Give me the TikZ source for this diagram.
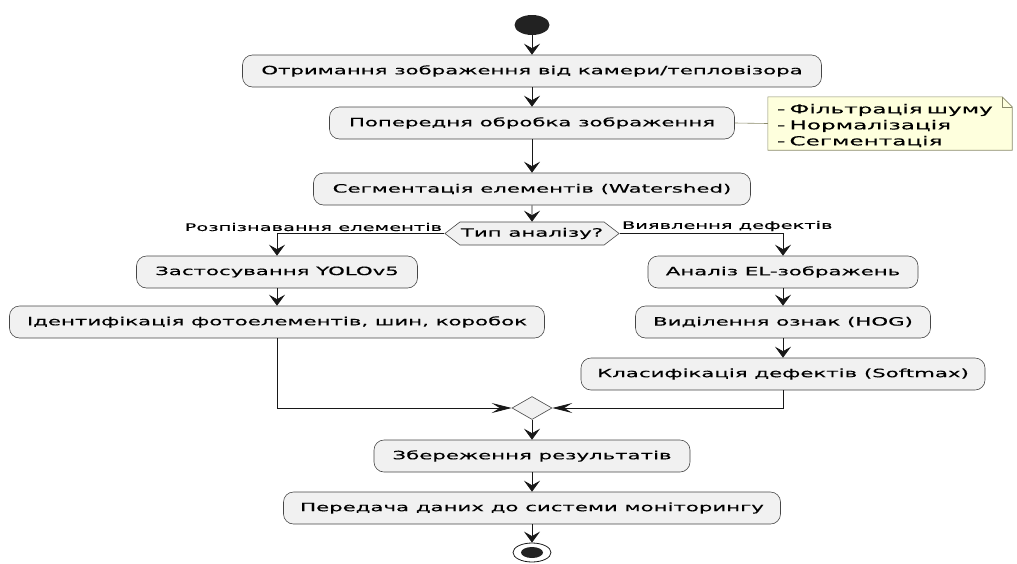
\documentclass[tikz,border=0pt]{standalone}
\usepackage{fontspec}
\newfontfamily\dv[FakeStretch=1.85,FakeBold=0.25]{DejaVu Sans}
\usetikzlibrary{arrows.meta}
\usetikzlibrary{shapes.geometric}
\usetikzlibrary{shapes.symbols}
\usetikzlibrary{positioning}
\definecolor{actfill}{HTML}{F1F1F1}
\definecolor{actline}{HTML}{181818}
\definecolor{notefill}{HTML}{FEFFDD}
\definecolor{noteline}{HTML}{8A8A6A}
\definecolor{dotfill}{HTML}{222222}
\tikzset{act/.style={rectangle,rounded corners=10pt,draw=actline!80,fill=actfill,line width=0.6pt,minimum height=32pt,inner sep=0pt,font=\dv\fontsize{11.5}{13}\selectfont}}
\tikzset{flow/.style={draw=actline,line width=0.8pt,-{Stealth[length=11pt,width=16pt,inset=4.5pt]}}}
\tikzset{hflow/.style={draw=actline,line width=0.8pt,-{Stealth[length=20pt,width=10pt,inset=8pt]}}}
\tikzset{lbl/.style={font=\dv\fontsize{10.5}{12}\selectfont,inner sep=2pt}}
\tikzset{notetext/.style={font=\dv\fontsize{12.5}{16}\selectfont,align=left,text width=226pt,inner xsep=9pt,minimum height=53pt}}

\begin{document}
\begin{tikzpicture}[x=1pt,y=-1pt]
    \useasboundingbox (0,0) rectangle (1017,563);
    \node[ellipse,fill=dotfill,minimum width=35pt,minimum height=20pt,inner sep=0pt] (start) at (532,25) {};
    \node[act,minimum width=579pt] (get) at (532,71) {Отримання зображення від камери/тепловізора};
    \node[act,minimum width=405pt] (prep) at (532,123) {Попередня обробка зображення};
    \node[notetext] (note) at (890,123.5) {\phantom{- Фільтрація шуму}};
    \node[act,minimum width=437pt] (seg) at (532,189) {Сегментація елементів (Watershed)};
    \node[signal,signal to=west and east,signal pointer angle=75,draw=actline!80,fill=actfill,line width=0.6pt,
          minimum width=172pt,minimum height=23pt,inner sep=1pt,font=\dv\fontsize{11.5}{13}\selectfont] (kind) at (532,233.5) {Тип аналізу?};
    \node[act,minimum width=281pt] (yolo) at (277,272) {Застосування YOLOv5};
    \node[act,minimum width=535pt] (ident) at (277,322) {Ідентифікація фотоелементів, шин, коробок};
    \node[act,minimum width=270pt] (el) at (783,272) {Аналіз EL-зображень};
    \node[act,minimum width=295pt] (hog) at (783,322) {Виділення ознак (HOG)};
    \node[act,minimum width=404pt] (cls) at (783,374) {Класифікація дефектів (Softmax)};
    \node[diamond,aspect=1.74,draw=actline!80,fill=actfill,line width=0.6pt,minimum width=40pt,minimum height=23pt,inner sep=0pt] (join) at (532,408) {};
    \node[act,minimum width=316pt] (save) at (532,456) {Збереження результатів};
    \node[act,minimum width=497pt] (send) at (532,508) {Передача даних до системи моніторингу};
    \node[ellipse,draw=actline,line width=0.8pt,minimum width=38pt,minimum height=19pt,inner sep=0pt] (stop) at (532,552.5) {};
    \node[ellipse,fill=dotfill,minimum width=22pt,minimum height=11pt,inner sep=0pt] (stopdot) at (stop) {};
    % note with folded corner
    \filldraw[fill=notefill,draw=noteline,line width=0.6pt] (note.north west) -- ([xshift=-10pt]note.north east)
        -- ([yshift=-10pt]note.north east) -- (note.south east) -- (note.south west) -- cycle;
    \draw[noteline,line width=0.6pt] ([xshift=-10pt]note.north east) -- ([xshift=-10pt,yshift=-10pt]note.north east)
        -- ([yshift=-10pt]note.north east);
    \node[notetext,yshift=-2pt] (notebody) at (note) {- Фільтрація шуму\\- Нормалізація\\- Сегментація};
    \draw[noteline,line width=0.6pt] (prep.east) -- (note.west);
    \draw[flow] (start) -- (get);
    \draw[flow] (get) -- (prep);
    \draw[flow] (prep) -- (seg);
    \draw[flow] (seg) -- (kind);
    \draw[flow] (kind.west) -| node[pos=0,lbl,anchor=south east] {Розпізнавання елементів} (yolo);
    \draw[flow] (kind.east) -| node[pos=0,lbl,anchor=south west] {Виявлення дефектів} (el);
    \draw[flow] (yolo) -- (ident);
    \draw[hflow] (ident) |- (join);
    \draw[flow] (el) -- (hog);
    \draw[flow] (hog) -- (cls);
    \draw[hflow] (cls) |- (join);
    \draw[flow] (join) -- (save);
    \draw[flow] (save) -- (send);
    \draw[flow] (send) -- (stop);
\end{tikzpicture}
\end{document}
